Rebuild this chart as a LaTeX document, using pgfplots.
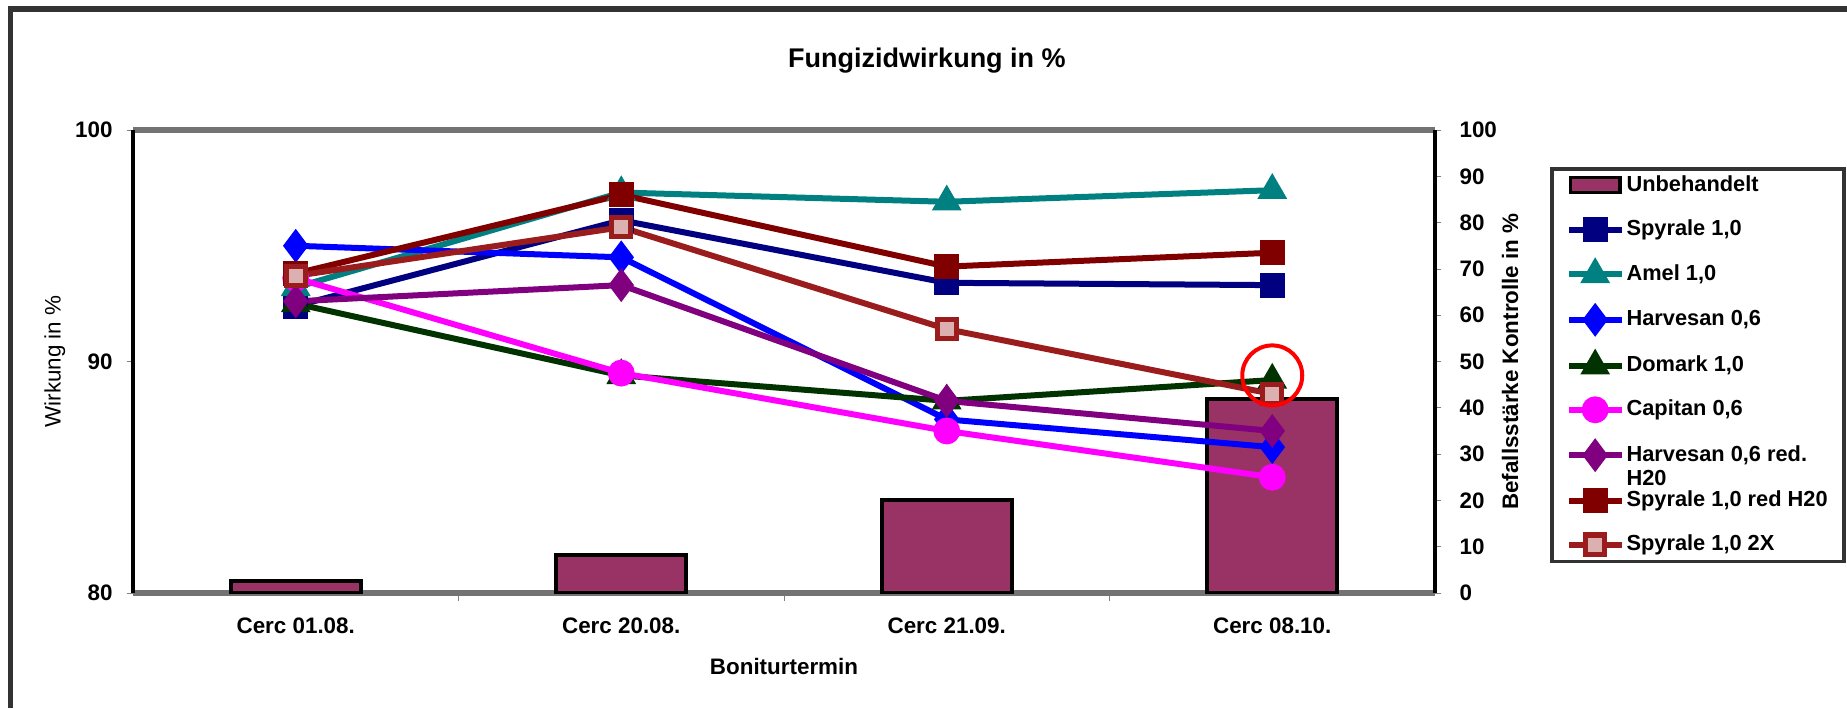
\documentclass[border=0pt]{standalone}
\usepackage{pgfplots}
\pgfplotsset{compat=1.18}
\usepackage{fontspec}
\setmainfont{Liberation Sans}

\definecolor{plum}{HTML}{993366}
\definecolor{spyr}{HTML}{000080}
\definecolor{amel}{HTML}{008080}
\definecolor{harv}{HTML}{0000FF}
\definecolor{doma}{HTML}{003300}
\definecolor{capi}{HTML}{FF00FF}
\definecolor{harvred}{HTML}{800080}
\definecolor{spyrred}{HTML}{800000}
\definecolor{spyrtwo}{HTML}{9B1C1C}

\newcommand{\tickfont}{\fontsize{5.6}{6.7}\selectfont\bfseries}
\newcommand{\legfont}{\fontsize{5.45}{6.5}\selectfont\bfseries}

\pgfplotsset{
  base/.style={
    scale only axis, width=325.5pt, height=115.75pt,
    at={(33.25pt,-148.25pt)}, anchor=south west,
    xmin=-0.5, xmax=3.5,
    tick align=outside,
    major tick length=1.6pt,
    minor tick length=2pt,
    /pgf/number format/assume math mode=true,
    ticklabel style={font=\tickfont},
    label style={font=\tickfont},
  },
  ln/.style={line width=1.5pt, mark size=2.4pt, mark options={solid}},
}

\begin{document}
\begin{tikzpicture}
\path[use as bounding box] (0pt,0pt) rectangle (461.75pt,-177pt);
\draw[black!80, line width=1.3pt] (2.6pt,-177pt) -- (2.6pt,-2.25pt) -- (461.75pt,-2.25pt);

% Befallsstaerke (rechte Achse)
\begin{axis}[base,
  ymin=0, ymax=100, ytick={0,10,...,100},
  ytick pos=right, yticklabel pos=right,
  yticklabel style={xshift=1pt},
  xtick={0,1,2,3},
  xticklabels={Cerc 01.08.,Cerc 20.08.,Cerc 21.09.,Cerc 08.10.},
  xtick pos=left, xticklabel pos=left,
  xticklabel style={yshift=-1.2pt},
  minor xtick={0.5,1.5,2.5},
  major x tick style={draw=none},
  separate axis lines,
  x axis line style={black!55, line width=1.3pt},
  y axis line style={black, line width=1.2pt},
  xlabel={Boniturtermin},
  xlabel style={at={(axis description cs:0.5,-0.175)}, anchor=base},
  ylabel={Befallsstärke Kontrolle in \%},
  ylabel style={at={(axis description cs:1.0576,0.5)}, anchor=center},
]
\addplot[ybar, bar width=0.4, fill=plum, draw=black, line width=1pt]
  coordinates {(0,2.6) (1,8.3) (2,20) (3,42)};
\end{axis}

% Wirkung (linke Achse)
\begin{axis}[base,
  ymin=80, ymax=100, ytick={80,90,100},
  axis x line=none, xtick=\empty,
  axis y line*=left,
  y axis line style={-, black, line width=1.2pt},
  ylabel={Wirkung in \%},
  ylabel style={at={(axis description cs:-0.06,0.5)}, anchor=center, font=\fontsize{5.6}{6.7}\selectfont},
  title={Fungizidwirkung in \%},
  every axis title shift=0pt,
  title style={at={(axis description cs:0.6098,1.136)}, anchor=base, yshift=0pt,
    font=\fontsize{6.75}{8}\selectfont\bfseries},
  legend cell align=left,
  legend style={at={(axis description cs:1.0883,0.9201)}, anchor=north west,
    draw=black!80, line width=0.9pt, fill=white,
    inner xsep=3.5pt, inner ysep=1.6pt, row sep=5.7pt,
    font=\legfont,
    nodes={inner xsep=0.5pt, inner ysep=0pt, text height=4.1pt, text depth=1.2pt}},
  legend image code/.code={%
    \draw[mark repeat=2, mark phase=2] plot coordinates {(0pt,0pt) (6.6pt,0pt) (13.2pt,0pt)};},
]
\addlegendimage{legend image code/.code={%
  \draw[fill=plum, draw=black, line width=0.9pt] (0.4pt,-1.7pt) rectangle (12.8pt,2.1pt);}}
\addlegendentry{Unbehandelt}

\addplot[ln, spyr, mark=square*] coordinates {(0,92.4) (1,96.1) (2,93.4) (3,93.3)};
\addlegendentry{Spyrale 1,0}
\addplot[ln, amel, mark=triangle*, mark size=2.8pt] coordinates {(0,93.2) (1,97.3) (2,96.9) (3,97.4)};
\addlegendentry{Amel 1,0}
\addplot[ln, harv, mark=diamond*, mark size=3pt] coordinates {(0,95.0) (1,94.5) (2,87.5) (3,86.3)};
\addlegendentry{Harvesan 0,6}
\addplot[ln, doma, mark=triangle*, mark size=2.8pt] coordinates {(0,92.5) (1,89.4) (2,88.3) (3,89.2)};
\addlegendentry{Domark 1,0}
\addplot[ln, capi, mark=*, mark size=2.6pt] coordinates {(0,93.6) (1,89.5) (2,87.0) (3,85.0)};
\addlegendentry{Capitan 0,6}
\addplot[ln, harvred, mark=diamond*, mark size=3pt] coordinates {(0,92.6) (1,93.3) (2,88.3) (3,87.0)};
\addlegendentry{\rlap{\raisebox{-6.2pt}[0pt][0pt]{H20}}Harvesan 0,6 red.}
\addplot[ln, spyrred, mark=square*] coordinates {(0,93.8) (1,97.2) (2,94.1) (3,94.7)};
\addlegendentry{Spyrale 1,0 red H20}
\addplot[ln, spyrtwo, mark=square*, mark options={fill=spyrtwo!35!white, draw=spyrtwo, line width=1.3pt}]
  coordinates {(0,93.7) (1,95.8) (2,91.4) (3,88.6)};
\addlegendentry{Spyrale 1,0 2X}

\addplot[forget plot, only marks, mark=o, mark size=7.5pt, red, mark options={line width=1pt}]
  coordinates {(3,89.4)};
\end{axis}
\end{tikzpicture}
\end{document}
